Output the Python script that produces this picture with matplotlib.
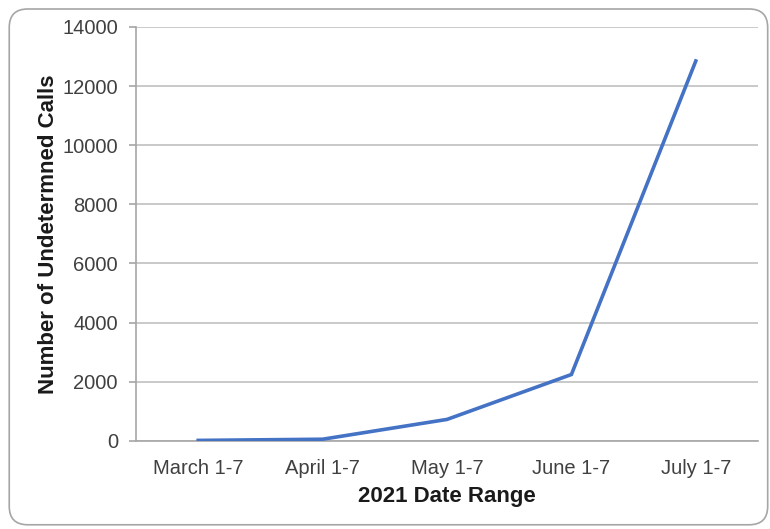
import matplotlib
matplotlib.use("Agg")
import matplotlib.pyplot as plt
from matplotlib.patches import FancyBboxPatch

# Weekly counts of undetermined calls, 2021
date_ranges = ["March 1-7", "April 1-7", "May 1-7", "June 1-7", "July 1-7"]
undetermined_calls = [10, 50, 720, 2240, 12850]
y_ticks = [0, 2000, 4000, 6000, 8000, 10000, 12000, 14000]

plt.rcParams["font.family"] = ["Liberation Sans", "DejaVu Sans"]

fig = plt.figure(figsize=(7.7, 5.29), dpi=100)
fig.patch.set_facecolor("white")

# Rounded chart frame
frame = FancyBboxPatch((0.012, 0.008), 0.985, 0.975,
                       boxstyle="round,pad=0,rounding_size=0.024",
                       transform=fig.transFigure, facecolor="none",
                       edgecolor="#a6a6a6", linewidth=1.2, zorder=-1,
                       mutation_aspect=770 / 529)
fig.patches.append(frame)

ax = fig.add_axes([136 / 770, 1 - 440.7 / 529, (758 - 136) / 770, (440.7 - 27) / 529])
ax.set_facecolor("none")

x = list(range(len(date_ranges)))
ax.plot(x, undetermined_calls, color="#4472C4", linewidth=2.6, solid_joinstyle="miter", zorder=3)

ax.set_xlim(-0.5, len(date_ranges) - 0.5)
ax.set_ylim(0, 14000)
ax.set_yticks(y_ticks)
ax.set_yticklabels([str(v) for v in y_ticks])
ax.set_xticks(x)
ax.set_xticklabels(date_ranges)

ax.grid(axis="y", color="#c0c0c0", linewidth=1.2, zorder=1)
ax.set_axisbelow(True)

for side in ("top", "right"):
    ax.spines[side].set_visible(False)
for side in ("left", "bottom"):
    ax.spines[side].set_color("#a6a6a6")
    ax.spines[side].set_linewidth(1.2)

ax.tick_params(axis="y", length=5, width=1.2, color="#a6a6a6", pad=8,
               labelsize=14.5, labelcolor="#404040")
ax.tick_params(axis="x", length=0, pad=13, labelsize=14.5, labelcolor="#404040")

ax.set_xlabel("2021 Date Range", fontsize=16, fontweight="bold", color="#1a1a1a", labelpad=6)
ax.set_ylabel("Number of Undetermned Calls", fontsize=16, fontweight="bold", color="#1a1a1a", labelpad=2)

fig.savefig("out.png", dpi=100, facecolor="white")
